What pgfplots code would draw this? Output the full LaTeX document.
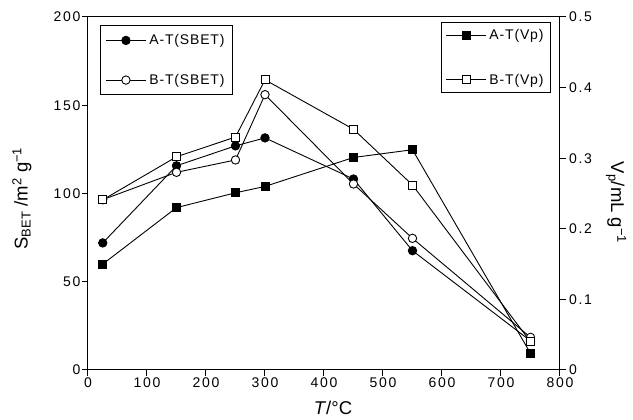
\documentclass[border=0pt]{standalone}
\usepackage{fontspec}
\setmainfont{Liberation Sans}
\newfontfamily\tickfont[LetterSpace=12]{Liberation Sans}
\newfontfamily\legfont[LetterSpace=6]{Liberation Sans}
\usepackage{pgfplots}
\pgfplotsset{compat=1.18}

% S_BET (left axis, m^2/g)
\pgfplotstableread{
T    A     B
25   72    96.5
150  115.7 112
250  127   119
300  131.5 156
450  108.2 105.4
550  67.6  74.6
750  16.5  18.5
}\sbet

% V_p (right axis, mL/g)
\pgfplotstableread{
T    A      B
25   0.150  0.241
150  0.230  0.302
250  0.251  0.330
300  0.260  0.411
450  0.301  0.341
550  0.312  0.262
750  0.0236 0.040
}\vp

\pgfplotsset{
  every axis/.append style={
    scale only axis, width=472pt, height=353pt,
    at={(0pt,0pt)}, anchor=south west,
    xmin=0, xmax=800,
    tick align=outside, major tick length=6pt,
    axis line style={line width=1pt},
    every tick/.style={line width=1pt, black},
    tick label style={font=\tickfont\fontsize{14}{14}\selectfont},
    label style={font=\fontsize{18.5}{18.5}\selectfont},
    legend image code/.code={\draw[mark repeat=2,mark phase=2,#1]
      plot coordinates {(0pt,0pt) (20pt,0pt) (40pt,0pt)};},
  },
  ser/.style={black, line width=0.9pt},
}

\begin{document}
\begin{tikzpicture}
\useasboundingbox (-88pt,-50pt) rectangle (545pt,370pt);

\begin{axis}[
  ymin=0, ymax=200,
  xtick={0,100,...,800},
  xticklabels={0,100,200,300,400,500,600,700,800},
  ytick={0,50,...,200},
  yticklabels={0,50,100,150,200},
  xtick pos=bottom, ytick pos=left,
  xticklabel style={inner sep=2pt},
  yticklabel style={inner sep=1.5pt},
  xlabel={\textit{T}/°C},
  xlabel style={at={(axis description cs:0.519,-0.108)}, anchor=center},
  ylabel={S\textsubscript{BET} /m\textsuperscript{2} g\textsuperscript{−1}},
  ylabel style={at={(axis description cs:-0.14,0.486)}, anchor=center},
  legend style={at={(axis description cs:0.0254,0.977)}, anchor=north west,
    draw=black, line width=1pt, font=\legfont\fontsize{14}{14}\selectfont,
    inner xsep=5pt, inner ysep=8pt, row sep=26pt,
    nodes={inner ysep=1pt, inner xsep=3pt}, cells={anchor=west}},
]
\addplot[ser, mark=*, mark size=4.2pt, mark options={solid, fill=black}]
  table[x=T, y=A] {\sbet};
\addlegendentry{A-T(SBET)}
\addplot[ser, mark=*, mark size=4.2pt, mark options={solid, fill=white}]
  table[x=T, y=B] {\sbet};
\addlegendentry{B-T(SBET)}
\end{axis}

\begin{axis}[
  ymin=0, ymax=0.5,
  axis x line=none, axis y line*=right,
  ytick={0,0.1,...,0.5},
  yticklabels={0,0.1,0.2,0.3,0.4,0.5},
  ytick pos=right,
  yticklabel style={inner sep=3pt},
  ylabel={V\textsubscript{p}/mL g\textsuperscript{−1}},
  ylabel style={at={(axis description cs:1.119,0.474)}, anchor=center, rotate=180},
  legend style={at={(axis description cs:0.981,0.986)}, anchor=north east,
    draw=black, line width=1pt, font=\legfont\fontsize{14}{14}\selectfont,
    inner xsep=4pt, inner ysep=6pt, row sep=31pt,
    nodes={inner ysep=1pt, inner xsep=3pt}, cells={anchor=west}},
]
\addplot[ser, mark=square*, mark size=4pt, mark options={solid, fill=black}]
  table[x=T, y=A] {\vp};
\addlegendentry{A-T(Vp)}
\addplot[ser, mark=square*, mark size=4pt, mark options={solid, fill=white}]
  table[x=T, y=B] {\vp};
\addlegendentry{B-T(Vp)}
\end{axis}
\end{tikzpicture}
\end{document}
